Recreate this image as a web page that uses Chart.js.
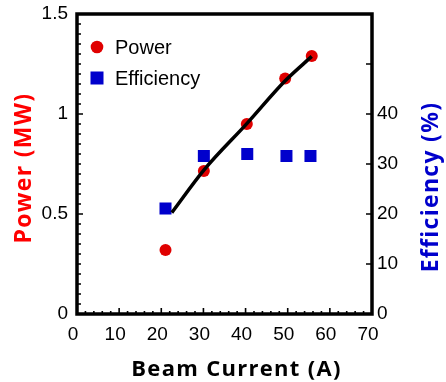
<!DOCTYPE html>
<html>
<head>
<meta charset="utf-8">
<script src="https://cdn.jsdelivr.net/npm/chart.js@4.4.1/dist/chart.umd.min.js"></script>
<style>
html,body{margin:0;padding:0;background:#fff;}
#wrap{width:446px;height:382px;position:relative;}
</style>
</head>
<body>
<div id="wrap"><canvas id="c" width="446" height="382"></canvas></div>
<script>
// ---- data ----
const powerCurrent = [21.0, 30.1, 40.3, 49.4, 55.7];
const powerMW = [0.32, 0.715, 0.95, 1.177, 1.29];
const effCurrent = [21.0, 30.1, 40.4, 49.7, 55.4];
const efficiencyPct = [21.1, 31.6, 32.0, 31.6, 31.6];
const fitCurrent = [22.5, 30.2, 40.3, 49.4, 55.7];
const fitPower = [0.507, 0.722, 0.952, 1.166, 1.288];
const xTicks = [0, 10, 20, 30, 40, 50, 60, 70];
const yTicks = [0, 0.5, 1, 1.5];
const y2Ticks = [0, 10, 20, 30, 40];
const seriesNames = ['Power', 'Efficiency'];
const xTitle = 'Beam Current (A)';
const yTitle = 'Power (MW)';
const y2Title = 'Efficiency (%)';

const RED = '#e00000';
const BLUE = '#0000cc';
const TICK_FONT = {family: '"Liberation Sans", Arial, sans-serif', size: 19};

const pts = (xs, ys) => xs.map((x, i) => ({x: x, y: ys[i]}));

const framePlugin = {
  id: 'frame',
  afterDatasetsDraw(chart) {
    const {ctx, chartArea: a, scales} = chart;
    ctx.save();
    ctx.strokeStyle = '#000';
    // inward tick marks
    ctx.lineWidth = 1.6;
    ctx.beginPath();
    for (let v = 0; v <= 70; v += 2) {
      const px = scales.x.getPixelForValue(v);
      const len = v % 10 === 0 ? 6 : 3;
      ctx.moveTo(px, a.bottom); ctx.lineTo(px, a.bottom - len);
    }
    for (let i = 0; i <= 30; i++) {
      const v = i * 0.05;
      const py = scales.y.getPixelForValue(v);
      const len = i % 10 === 0 ? 6 : 4;
      ctx.moveTo(a.left, py); ctx.lineTo(a.left + len, py);
    }
    for (let v = 0; v <= 60; v += 10) {
      const py = scales.y2.getPixelForValue(v);
      ctx.moveTo(a.right, py); ctx.lineTo(a.right - 6, py);
    }
    ctx.stroke();
    // frame
    ctx.lineWidth = 3.5;
    ctx.beginPath();
    ctx.rect(a.left, a.top, a.right - a.left, a.bottom - a.top);
    ctx.stroke();
    ctx.restore();
  },
  afterDraw(chart) {
    const {ctx, chartArea: a} = chart;
    ctx.save();
    // legend
    const lx = a.left + 20, ly1 = a.top + 33, ly2 = a.top + 64;
    ctx.fillStyle = RED;
    ctx.beginPath(); ctx.arc(lx, ly1, 6.3, 0, Math.PI * 2); ctx.fill();
    ctx.fillStyle = BLUE;
    ctx.fillRect(lx - 6.5, ly2 - 6.5, 13, 13);
    ctx.fillStyle = '#000';
    ctx.font = '20px "Liberation Sans", Arial, sans-serif';
    ctx.textBaseline = 'middle';
    ctx.textAlign = 'left';
    ctx.fillText(seriesNames[0], lx + 18, ly1 + 1);
    ctx.fillText(seriesNames[1], lx + 18, ly2 + 1);
    // axis titles
    ctx.textAlign = 'center';
    ctx.textBaseline = 'alphabetic';
    try { ctx.letterSpacing = '1.3px'; } catch (e) {}
    ctx.font = 'bold 22px "Open Sans", sans-serif';
    ctx.fillStyle = '#000';
    ctx.fillText(xTitle, (a.left + a.right) / 2 + 12, 376);
    ctx.font = 'bold 23px "Open Sans", sans-serif';
    ctx.save();
    ctx.translate(31, (a.top + a.bottom) / 2 + 4);
    ctx.rotate(-Math.PI / 2);
    ctx.fillStyle = '#ff0000';
    ctx.fillText(yTitle, 0, 0);
    ctx.restore();
    ctx.save();
    ctx.translate(438, (a.top + a.bottom) / 2 + 23);
    ctx.rotate(-Math.PI / 2);
    ctx.fillStyle = BLUE;
    ctx.fillText(y2Title, 0, 0);
    ctx.restore();
    ctx.restore();
  }
};

new Chart(document.getElementById('c'), {
  type: 'scatter',
  data: {
    datasets: [
      {
        label: 'Fit',
        type: 'line',
        data: pts(fitCurrent, fitPower),
        yAxisID: 'y',
        borderColor: '#000',
        borderWidth: 3.5,
        pointRadius: 0,
        fill: false,
        cubicInterpolationMode: 'monotone',
        order: 0
      },
      {
        label: seriesNames[0],
        data: pts(powerCurrent, powerMW),
        yAxisID: 'y',
        backgroundColor: RED,
        borderColor: RED,
        borderWidth: 0,
        pointStyle: 'circle',
        pointRadius: 6,
        order: 2
      },
      {
        label: seriesNames[1],
        data: pts(effCurrent, efficiencyPct),
        yAxisID: 'y2',
        backgroundColor: BLUE,
        borderColor: BLUE,
        borderWidth: 0,
        pointStyle: 'rect',
        pointRadius: 8.5,
        order: 1
      }
    ]
  },
  options: {
    responsive: false,
    animation: false,
    events: [],
    layout: {padding: {top: 14, left: 0, right: 0, bottom: 0}},
    plugins: {legend: {display: false}, tooltip: {enabled: false}},
    scales: {
      x: {
        type: 'linear', min: 0, max: 70,
        afterBuildTicks(s) { s.ticks = xTicks.map(v => ({value: v})); },
        afterFit(s) { s.height = 68; s.paddingLeft = 0; s.paddingRight = 0; },
        grid: {display: false, drawTicks: false},
        border: {display: false},
        ticks: {font: TICK_FONT, color: '#000', padding: 9, labelOffset: -4, maxRotation: 0}
      },
      y: {
        type: 'linear', position: 'left', min: 0, max: 1.5,
        afterBuildTicks(s) { s.ticks = yTicks.map(v => ({value: v})); },
        afterFit(s) { s.width = 77; s.paddingTop = 0; s.paddingBottom = 0; },
        grid: {display: false, drawTicks: false},
        border: {display: false},
        ticks: {font: TICK_FONT, color: '#000', padding: 9, callback: v => String(v)}
      },
      y2: {
        type: 'linear', position: 'right', min: 0, max: 60,
        afterBuildTicks(s) { s.ticks = y2Ticks.map(v => ({value: v})); },
        afterFit(s) { s.width = 74; s.paddingTop = 0; s.paddingBottom = 0; },
        grid: {display: false, drawTicks: false},
        border: {display: false},
        ticks: {font: TICK_FONT, color: '#000', padding: 5, callback: v => String(v)}
      }
    }
  },
  plugins: [framePlugin]
});
</script>
</body>
</html>
